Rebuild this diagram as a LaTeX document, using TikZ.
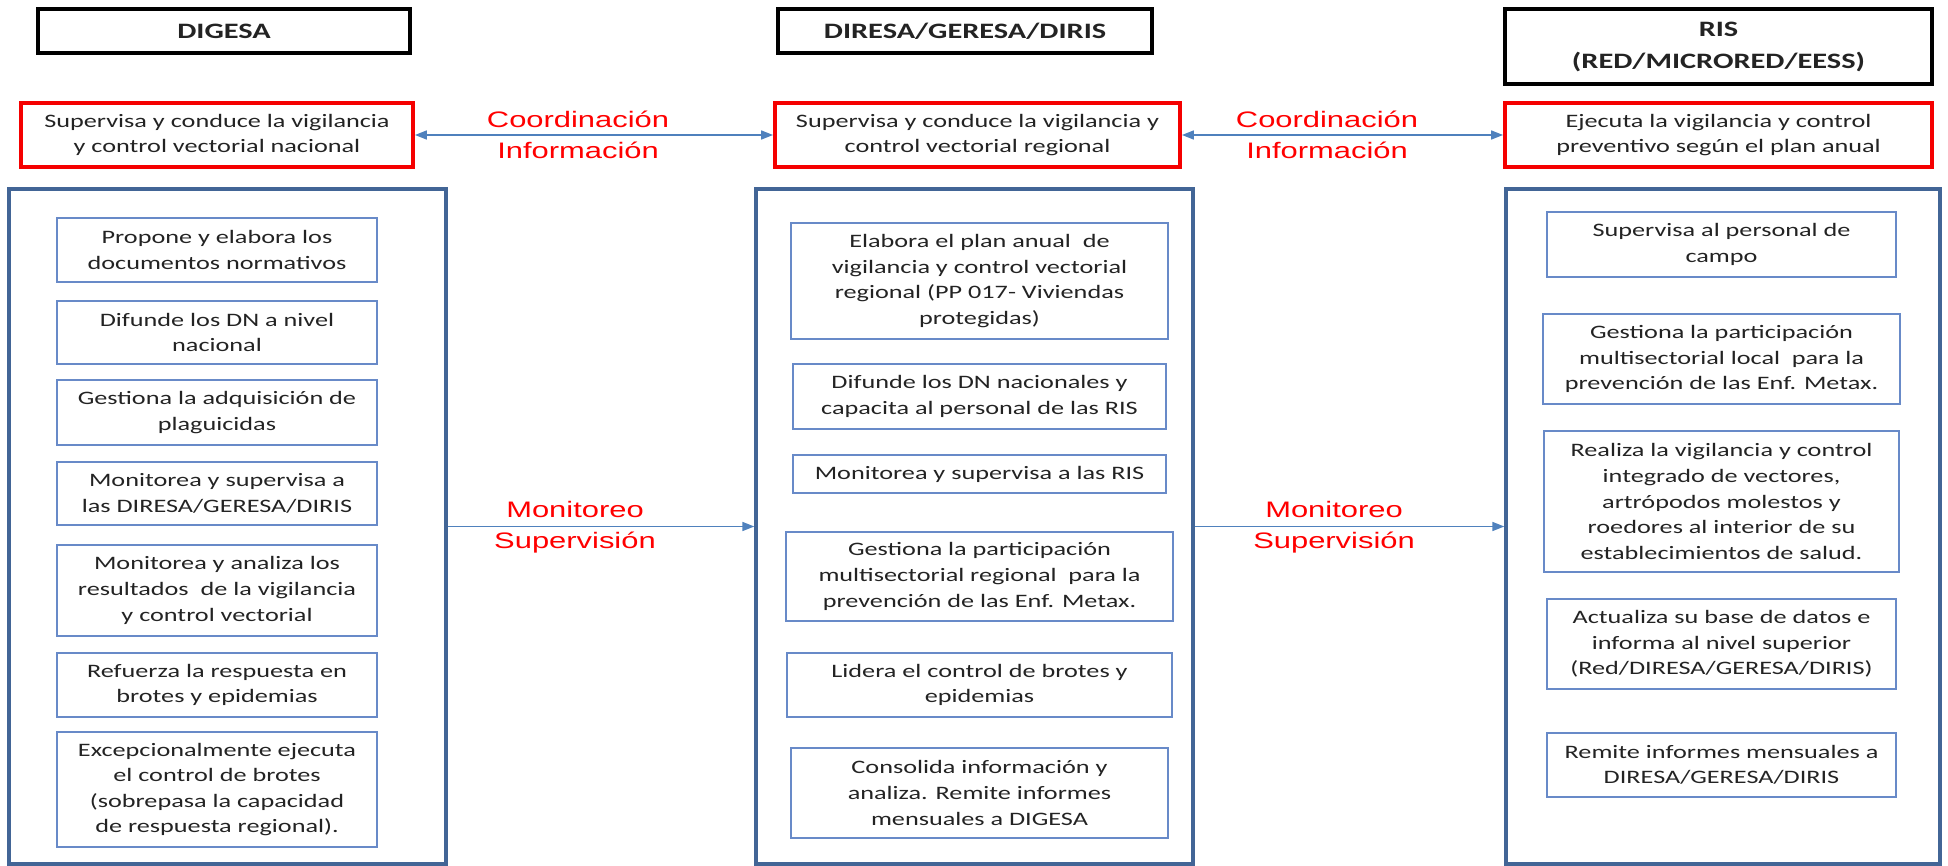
\documentclass[tikz,border=0pt]{standalone}
\usepackage{xcolor}
\usepackage{fontspec}
\setmainfont{Carlito}[FakeStretch=1.38]
\newfontfamily\arialfont{Liberation Sans}[FakeStretch=1.38]
\usepackage{tikz}
\usetikzlibrary{arrows.meta}

\definecolor{outerblue}{RGB}{66,101,150}
\definecolor{innerblue}{RGB}{104,138,200}
\definecolor{arrowblue}{RGB}{79,129,189}
\definecolor{boxred}{RGB}{245,0,0}
\definecolor{txtgray}{RGB}{35,35,35}

\begin{document}
\begin{tikzpicture}[x=0.5pt,y=-0.5pt,
    every node/.style={align=center,inner sep=2pt,text=txtgray},
    sz/.style n args={2}{minimum width=#1*0.5pt,minimum height=#2*0.5pt},
    header/.style={draw=black,line width=1.9pt,font=\bfseries\fontsize{11}{16}\selectfont},
    rolebox/.style={draw=boxred,line width=1.9pt,font=\fontsize{9.5}{12.8}\selectfont},
    column/.style={draw=outerblue,line width=1.7pt},
    task/.style={draw=innerblue,line width=0.8pt,font=\fontsize{9.5}{12.8}\selectfont},
    flowlabel/.style={text=red,font=\arialfont\fontsize{11.2}{15.5}\selectfont},
    link/.style={draw=arrowblue,line width=0.8pt,-{Triangle[length=6pt,width=4.5pt]}}]
  \useasboundingbox (0,0) rectangle (1948,866);

  \node[header,sz={372}{44}] (hdigesa) at (224,31) {DIGESA};
  \node[header,sz={374}{44}] (hdiresa) at (965,31) {DIRESA/GERESA/DIRIS};
  \node[header,sz={427}{75}] (hris) at (1718.5,46.5) {RIS\\(RED/MICRORED/EESS)};

  \node[rolebox,sz={392}{64}] (rdigesa) at (217,135) {Supervisa y conduce la vigilancia\\y control vectorial nacional};
  \node[rolebox,sz={405}{64}] (rdiresa) at (977.5,135) {Supervisa y conduce la vigilancia y\\control vectorial regional};
  \node[rolebox,sz={427}{64}] (rris) at (1718.5,135) {Ejecuta la vigilancia y control\\preventivo según el plan anual};

  \node[column,sz={437}{675}] (cdigesa) at (227.5,526.5) {};
  \node[column,sz={437}{675}] (cdiresa) at (974.5,526.5) {};
  \node[column,sz={434}{675}] (cris) at (1723,526.5) {};

  \node[task,sz={320}{64}] (l1) at (217,250) {Propone y elabora los\\documentos normativos};
  \node[task,sz={320}{63}] (l2) at (217,332.5) {Difunde los DN a nivel\\nacional};
  \node[task,sz={320}{65}] (l3) at (217,412.5) {Gestiona la adquisición de\\plaguicidas};
  \node[task,sz={320}{63}] (l4) at (217,493.5) {Monitorea y supervisa a\\las DIRESA/GERESA/DIRIS};
  \node[task,sz={320}{91}] (l5) at (217,590.5) {Monitorea y analiza los\\resultados\ \ de la vigilancia\\y control vectorial};
  \node[task,sz={320}{64}] (l6) at (217,685) {Refuerza la respuesta en\\brotes y epidemias};
  \node[task,sz={320}{115}] (l7) at (217,789.5) {Excepcionalmente ejecuta\\el control de brotes\\(sobrepasa la capacidad\\de respuesta regional).};

  \node[task,sz={377}{116}] (m1) at (979.5,281) {Elabora el plan anual\ \ de\\vigilancia y control vectorial\\regional (PP 017- Viviendas\\protegidas)};
  \node[task,sz={373}{65}] (m2) at (979.5,396.5) {Difunde los DN nacionales y\\capacita al personal de las RIS};
  \node[task,sz={373}{38}] (m3) at (979.5,474) {Monitorea y supervisa a las RIS};
  \node[task,sz={387}{89}] (m4) at (979.5,576.5) {Gestiona la participación\\multisectorial regional\ \ para la\\prevención de las Enf. Metax.};
  \node[task,sz={385}{64}] (m5) at (979.5,685) {Lidera el control de brotes y\\epidemias};
  \node[task,sz={377}{90}] (m6) at (979.5,793) {Consolida información y\\analiza. Remite informes\\mensuales a DIGESA};

  \node[task,sz={349}{65}] (r1) at (1721.5,244.5) {Supervisa al personal de\\campo};
  \node[task,sz={357}{90}] (r2) at (1721.5,359) {Gestiona la participación\\multisectorial local\ \ para la\\prevención de las Enf. Metax.};
  \node[task,sz={355}{141}] (r3) at (1721.5,501.5) {Realiza la vigilancia y control\\integrado de vectores,\\artrópodos molestos y\\roedores al interior de su\\establecimientos de salud.};
  \node[task,sz={349}{90}] (r4) at (1721.5,644) {Actualiza su base de datos e\\informa al nivel superior\\(Red/DIRESA/GERESA/DIRIS)};
  \node[task,sz={349}{64}] (r5) at (1721.5,765) {Remite informes mensuales a\\DIRESA/GERESA/DIRIS};

  \draw[link,{Triangle[length=6pt,width=4.5pt]}-{Triangle[length=6pt,width=4.5pt]}] (rdigesa) -- (rdiresa);
  \draw[link,{Triangle[length=6pt,width=4.5pt]}-{Triangle[length=6pt,width=4.5pt]}] (rdiresa) -- (rris);
  \draw[link] (cdigesa) -- (cdiresa);
  \draw[link] (cdiresa) -- (cris);

  \node[flowlabel] (coord1) at (578,135) {Coordinación\\Información};
  \node[flowlabel] (coord2) at (1327,135) {Coordinación\\Información};
  \node[flowlabel] (mon1) at (575,527) {Monitoreo\\Supervisión};
  \node[flowlabel] (mon2) at (1334,527) {Monitoreo\\Supervisión};
\end{tikzpicture}
\end{document}
